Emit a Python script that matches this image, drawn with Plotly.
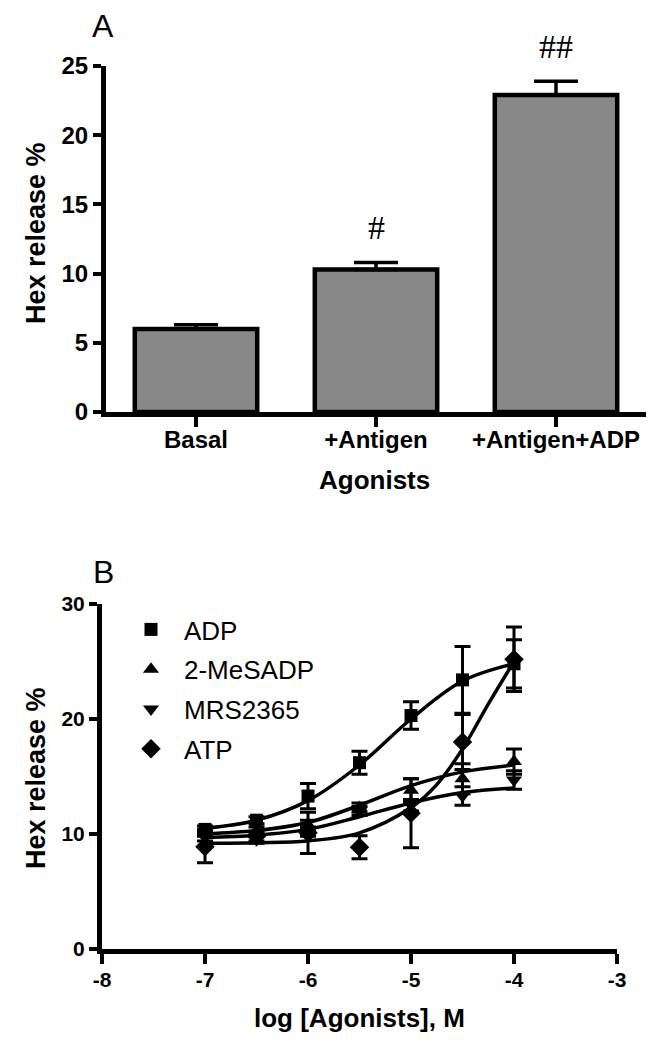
import plotly.graph_objects as go

# ---------------- Panel A data ----------------
categories = ["Basal", "+Antigen", "+Antigen+ADP"]
bar_values = [6.0, 10.3, 22.9]
bar_errors = [0.3, 0.5, 1.0]
bar_marks = ["", "#", "##"]

# ---------------- Panel B data ----------------
log_conc = [-7, -6.5, -6, -5.5, -5, -4.5, -4]
adp = [10.4, 11.2, 13.3, 16.2, 20.3, 23.4, 24.8]
adp_err = [0.3, 0.3, 1.1, 1.0, 1.2, 2.9, 2.1]
mesadp = [10.1, 10.3, 10.8, 12.3, 13.8, 14.8, 16.3]
mesadp_err = [0.3, 0.3, 0.4, 0.4, 1.0, 1.3, 1.1]
mrs = [9.7, 9.5, 10.2, 12.0, 12.5, 13.3, 14.7]
mrs_err = [0.3, 0.3, 0.4, 0.4, 0.5, 0.8, 0.8]
atp = [8.9, 9.8, 10.1, 8.85, 11.8, 18.0, 25.2]
atp_err = [1.4, 0.4, 1.8, 1.0, 3.0, 2.4, 2.8]

# fitted curves
fit_x = [-7, -6.5, -6, -5.5, -5, -4.5, -4]
adp_fit = [10.5, 11.2, 12.9, 16.0, 20.0, 23.3, 24.8]
mesadp_fit = [10.0, 10.3, 11.0, 12.5, 14.2, 15.4, 16.0]
mrs_fit = [9.7, 9.9, 10.4, 11.5, 12.7, 13.6, 14.0]
atp_fit_x = [-7, -6.5, -6, -5.5, -5, -4.75, -4.5, -4.25, -4]
atp_fit = [9.2, 9.25, 9.4, 10.1, 12.3, 14.3, 17.4, 21.3, 25.0]

W, H = 660, 1050
OFF = 8  # page body margin


def px(x):
    return (x - OFF) / W


def py(y):
    return 1 - (y - OFF) / H


BOLD = "Liberation Sans"
fig = go.Figure()

# Panel A bars
fig.add_trace(go.Bar(
    x=categories, y=bar_values, width=0.68,
    marker=dict(color="#888888", line=dict(color="black", width=4.5)),
    error_y=dict(type="data", symmetric=False, array=bar_errors,
                 arrayminus=[0, 0, 0], color="black", thickness=3.5, width=22),
    xaxis="x", yaxis="y", showlegend=False,
))

# Panel B curves
for xs, ys in [(fit_x, adp_fit), (fit_x, mesadp_fit), (fit_x, mrs_fit), (atp_fit_x, atp_fit)]:
    fig.add_trace(go.Scatter(
        x=xs, y=ys, mode="lines", line=dict(color="black", width=3.5, shape="spline", smoothing=1.0),
        xaxis="x2", yaxis="y2", showlegend=False, hoverinfo="skip",
    ))

series = [
    ("ADP", adp, adp_err, "square", 13),
    ("2-MeSADP", mesadp, mesadp_err, "triangle-up", 14),
    ("MRS2365", mrs, mrs_err, "triangle-down", 14),
    ("ATP", atp, atp_err, "diamond", 15),
]
for name, ys, es, sym, sz in series:
    fig.add_trace(go.Scatter(
        x=log_conc, y=ys, mode="markers", name=name, legendgroup=name,
        marker=dict(symbol=sym, size=sz, color="black"),
        error_y=dict(type="data", array=es, color="black", thickness=3, width=8),
        xaxis="x2", yaxis="y2",
    ))

axis_common = dict(showline=True, linecolor="black", linewidth=5, ticks="outside",
                   tickcolor="black", tickwidth=3.5, showgrid=False, zeroline=False,
                   mirror=False, automargin=False)

fig.update_layout(
    width=W, height=H,
    margin=dict(l=0, r=0, t=0, b=0, autoexpand=False),
    paper_bgcolor="white", plot_bgcolor="white",
    xaxis=dict(domain=[px(106), px(646)], range=[-0.5, 2.5], anchor="y",
               tickmode="array", tickvals=categories,
               ticktext=["<b>%s</b>" % c for c in categories],
               ticklen=10, ticklabelstandoff=-8,
               tickfont=dict(family=BOLD, size=24, color="black"),
               **axis_common),
    yaxis=dict(domain=[py(412), py(66)], range=[0, 25], anchor="x",
               tickmode="array", tickvals=[0, 5, 10, 15, 20, 25],
               ticktext=["<b>%d</b>" % v for v in [0, 5, 10, 15, 20, 25]], ticklen=8,
               tickfont=dict(family=BOLD, size=24, color="black"), **axis_common),
    xaxis2=dict(domain=[px(102), px(617)], range=[-8, -3], anchor="y2",
                tickmode="array", tickvals=[-8, -7, -6, -5, -4, -3],
                ticktext=["<b>%d</b>" % v for v in [-8, -7, -6, -5, -4, -3]],
                ticklen=10, ticklabelstandoff=-2,
                tickfont=dict(family=BOLD, size=21, color="black"), **axis_common),
    yaxis2=dict(domain=[py(949), py(604)], range=[0, 30], anchor="x2",
                tickmode="array", tickvals=[0, 10, 20, 30],
                ticktext=["<b>%d</b>" % v for v in [0, 10, 20, 30]], ticklen=8,
                tickfont=dict(family=BOLD, size=21, color="black"), **axis_common),
    legend=dict(x=px(118), y=py(606), xanchor="left", yanchor="top",
                font=dict(family="Liberation Sans", size=26, color="black"),
                itemwidth=56,
                bgcolor="rgba(0,0,0,0)", tracegroupgap=3, traceorder="grouped"),
    showlegend=True,
)

annotations = [
    dict(text="A", x=px(103.5), y=py(26), xref="paper", yref="paper",
         xanchor="center", yanchor="middle",
         showarrow=False, font=dict(family="Liberation Sans", size=32, color="black")),
    dict(text="B", x=px(103), y=py(572), xref="paper", yref="paper",
         xanchor="center", yanchor="middle",
         showarrow=False, font=dict(family="Liberation Sans", size=32, color="black")),
    dict(text="<b>Hex release %</b>", x=px(36), y=py(233), xref="paper", yref="paper",
         xanchor="center", yanchor="middle",
         textangle=-90, showarrow=False, font=dict(family=BOLD, size=27, color="black")),
    dict(text="<b>Agonists</b>", x=px(374), y=py(480), xref="paper", yref="paper",
         xanchor="center", yanchor="middle",
         showarrow=False, font=dict(family=BOLD, size=26, color="black")),
    dict(text="<b>Hex release %</b>", x=px(36), y=py(778), xref="paper", yref="paper",
         xanchor="center", yanchor="middle",
         textangle=-90, showarrow=False, font=dict(family=BOLD, size=27, color="black")),
    dict(text="<b>log [Agonists], M</b>", x=px(359), y=py(1018), xref="paper", yref="paper",
         xanchor="center", yanchor="middle",
         showarrow=False, font=dict(family=BOLD, size=26, color="black")),
]
for cat, val, err, mark in zip(categories, bar_values, bar_errors, bar_marks):
    if mark:
        annotations.append(dict(text=mark, x=cat, y=(val + err + 2.5) / 25.0,
                                xref="x", yref="y domain",
                                showarrow=False, xanchor="center", yanchor="middle",
                                font=dict(family="Liberation Serif", size=34, color="black")))
fig.update_layout(annotations=annotations)

fig.write_html("out.html")
